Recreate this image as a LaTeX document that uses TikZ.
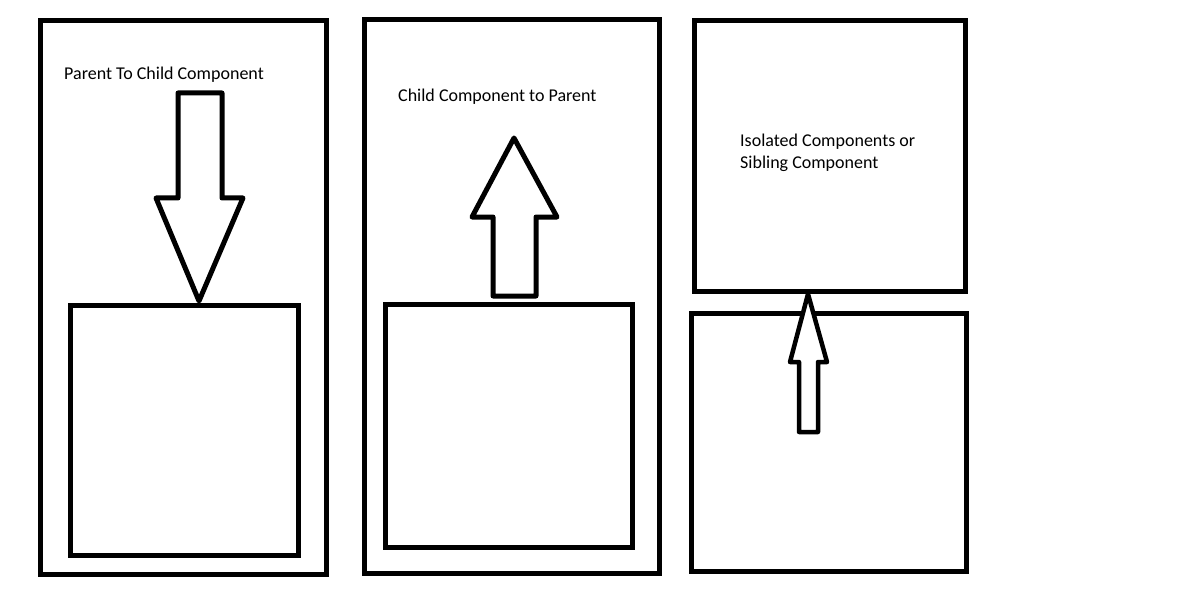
\documentclass[tikz,border=0pt]{standalone}
\usepackage{fontspec}
\setmainfont{Carlito}
\begin{document}
\begin{tikzpicture}[x=1pt,y=-1pt,
  panel/.style={draw=black,line width=5pt,rectangle,inner sep=0pt},
  blockarrow/.style={draw=black,line width=5pt,fill=white,line join=round},
  lbl/.style={font=\fontsize{18}{22}\selectfont,inner sep=0pt,anchor=west,align=left,text=black}]
\useasboundingbox[fill=white] (0,0) rectangle (1188,604);
% panels
\node[panel,minimum width=286pt,minimum height=553pt] (p1) at (183,297.5) {};
\node[panel,minimum width=228pt,minimum height=250pt] (c1) at (184,430.5) {};
\node[panel,minimum width=295pt,minimum height=553pt] (p2) at (511.5,296.5) {};
\node[panel,minimum width=247pt,minimum height=243pt] (c2) at (508.5,425.5) {};
\node[panel,minimum width=271pt,minimum height=270pt] (s1) at (829.5,156) {};
\node[panel,minimum width=275pt,minimum height=258pt] (s2) at (828.5,442) {};
% arrows
\draw[blockarrow] (178,93) -- (222,93) -- (222,198) -- (243,198) -- (199,301) -- (156,198) -- (178,198) -- cycle;
\draw[blockarrow] (493,296) -- (536,296) -- (536,217) -- (557,217) -- (514,138) -- (472,217) -- (493,217) -- cycle;
\draw[blockarrow,line width=4.5pt] (799,432) -- (818,432) -- (818,362) -- (827,362) -- (808,294) -- (790,362) -- (799,362) -- cycle;
% labels
\node[lbl] (t1) at (64,75) {Parent To Child Component};
\node[lbl] (t2) at (398,97) {Child Component to Parent};
\node[lbl] (t3) at (740,153) {Isolated Components or\\Sibling Component};
\end{tikzpicture}
\end{document}
